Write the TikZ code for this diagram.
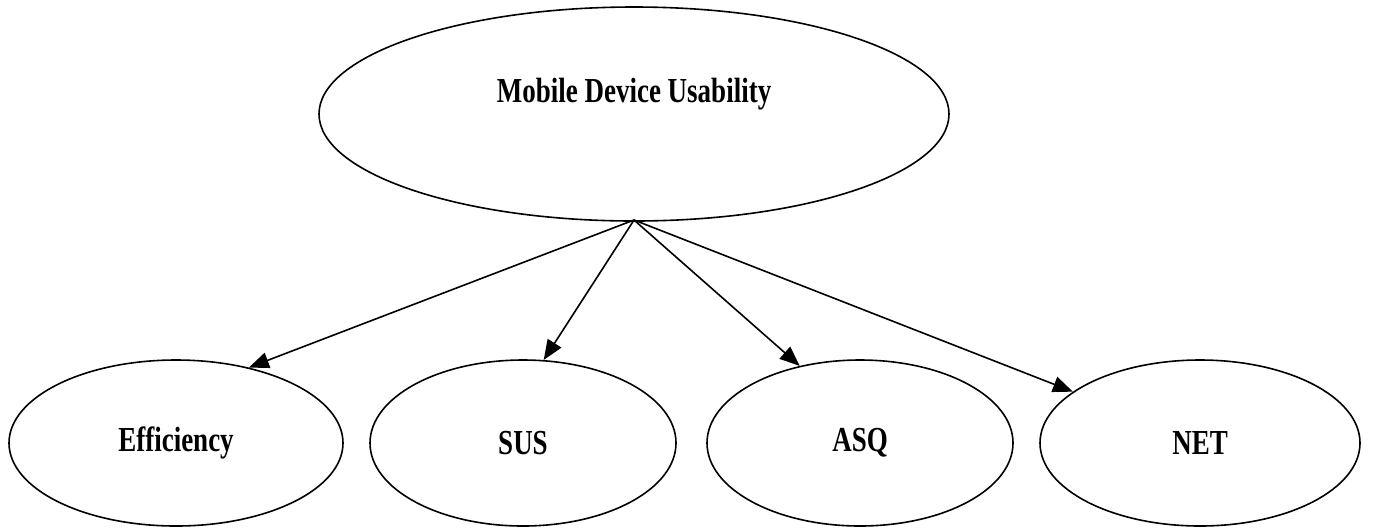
\documentclass[tikz,border=0pt]{standalone}
\usepackage{graphicx}
\usepackage{fontspec}
\setmainfont{Liberation Serif}
\usetikzlibrary{shapes.geometric, arrows.meta}
% bold labels, drawn a little taller than wide
\newcommand{\tall}[1]{\scalebox{1}[1.3]{\fontsize{13.5}{15}\selectfont\bfseries #1}}
\tikzstyle{construct} = [ellipse, draw=black, line width=0.8pt, inner sep=0pt, minimum height=83pt]
\tikzstyle{arrow} = [draw, line width=0.8pt, -{Triangle[length=10pt, width=8pt]}]

\begin{document}
\begin{tikzpicture}[x=0.5pt, y=-0.5pt]
		\useasboundingbox (0,0) rectangle (1380,527);
		\node (usab) [construct, minimum width=315pt, minimum height=107pt] at (634,114) {};
		\node (usabtxt) at (634,94) {\tall{Mobile Device Usability}};
		\coordinate (hub) at (634,220);
		
		\node (eff) [construct, minimum width=167pt] at (176,443) {\tall{Efficiency}};
		\node (sus) [construct, minimum width=153pt] at (523,443) {\tall{SUS}};
		\node (asq) [construct, minimum width=153pt] at (860,443) {\tall{ASQ}};
		\node (net) [construct, minimum width=160pt] at (1200,443) {\tall{NET}};
		
		\draw[arrow] (hub) -- (eff.46);
		\draw[arrow] (hub) -- (sus.76);
		\draw[arrow] (hub) -- (asq.128);
		\draw[arrow] (hub) -- (net.158);
		
\end{tikzpicture}
\end{document}
